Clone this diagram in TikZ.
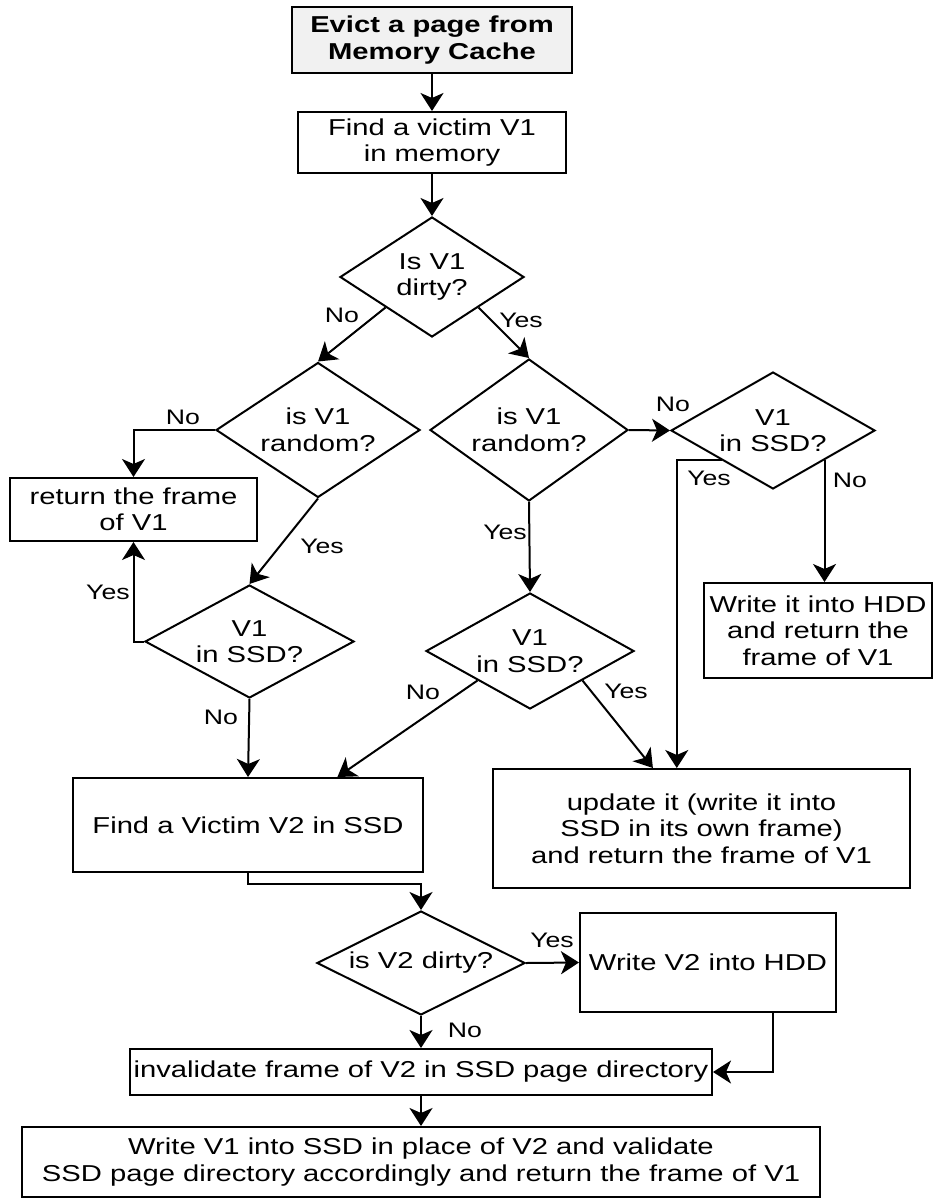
\documentclass[tikz,border=0pt]{standalone}
\usepackage{fontspec}
\setmainfont{Liberation Sans}[FakeStretch=1.27]
\usetikzlibrary{shapes.geometric,arrows.meta,calc}
\begin{document}
\begin{tikzpicture}[x=1pt,y=-1pt,
  box/.style={draw,line width=2pt,inner sep=0pt,align=center,font=\fontsize{23}{26.5}\selectfont},
  dia/.style={draw,diamond,line width=2pt,inner sep=0pt,align=center,font=\fontsize{23}{26.5}\selectfont},
  lab/.style={font=\fontsize{21}{24}\selectfont,inner sep=0pt},
  arr/.style={line width=2pt,-{Stealth[length=18pt,width=23pt,inset=5pt]}},
  ln/.style={line width=2pt}]
\useasboundingbox (0,0) rectangle (933,1198);

% boxes
\node[box,fill=gray!11,minimum width=280pt,minimum height=66pt] (top) at (432,40) {\textbf{Evict a page from}\\\textbf{Memory Cache}};
\node[box,minimum width=268pt,minimum height=61pt] (v1) at (432,142.5) {Find a victim V1\\in memory};
\node[box,minimum width=247pt,minimum height=63pt] (ret) at (133.5,509.5) {return the frame\\of V1};
\node[box,minimum width=228pt,minimum height=95pt] (hdd) at (818,630.5) {Write it into HDD\\and return the\\frame of V1};
\node[box,minimum width=350pt,minimum height=94pt] (v2) at (248,825) {Find a Victim V2 in SSD};
\node[box,minimum width=417pt,minimum height=119pt] (upd) at (701.5,828.5) {update it (write it into\\SSD in its own frame)\\and return the frame of V1};
\node[box,minimum width=256pt,minimum height=99pt] (wv2) at (708,962.5) {Write V2 into HDD};
\node[box,minimum width=582pt,minimum height=46pt] (inv) at (421,1072) {invalidate frame of V2 in SSD page directory};
\node[box,minimum width=798pt,minimum height=70pt] (wv1) at (421,1162) {Write V1 into SSD in place of V2 and validate\\SSD page directory accordingly and return the frame of V1};

% diamonds
\node[dia,minimum width=184pt,minimum height=120pt,aspect=1.53] (dirty) at (432,277) {Is V1\\dirty?};
\node[dia,minimum width=204pt,minimum height=135pt,aspect=1.5] (randL) at (318,430) {is V1\\random?};
\node[dia,minimum width=198pt,minimum height=142pt,aspect=1.39] (randR) at (529,430) {is V1\\random?};
\node[dia,minimum width=204pt,minimum height=117pt,aspect=1.74] (ssdR) at (773,430.5) {V1\\in SSD?};
\node[dia,minimum width=209pt,minimum height=113pt,aspect=1.85] (ssdL) at (249.5,641.5) {V1\\in SSD?};
\node[dia,minimum width=208pt,minimum height=116pt,aspect=1.79] (ssdM) at (530,651) {V1\\in SSD?};
\node[dia,minimum width=208pt,minimum height=104pt,aspect=2] (dirty2) at (421,963) {is V2 dirty?};

% connectors
\draw[arr] (top.south) -- (v1.north);
\draw[arr] (v1.south) -- (dirty.north);
\draw[arr] ($(dirty.west)!0.5!(dirty.south)$) -- (randL.north);
\draw[arr] ($(dirty.south)!0.5!(dirty.east)$) -- (randR.north);
\draw[arr] (randL.west) -| (ret.north);
\draw[arr] (randL.south) -- (ssdL.north);
\draw[arr] (ssdL.west) -| (ret.south);
\draw[arr] (ssdL.south) -- (v2.north);
\draw[arr] (randR.east) -- (ssdR.west);
\draw[arr] (randR.south) -- (ssdM.north);
\draw[arr] ($(ssdR.west)!0.5!(ssdR.south)$) -| ($(upd.north west)!0.441!(upd.north east)$);
\coordinate (ssdRno) at ($(ssdR.south)!0.5!(ssdR.east)$);
\draw[arr] (ssdRno) -- (ssdRno |- hdd.north);
\draw[arr] ($(ssdM.west)!0.5!(ssdM.south)$) -- ($(v2.north west)!0.754!(v2.north east)$);
\draw[arr] ($(ssdM.south)!0.5!(ssdM.east)$) -- ($(upd.north west)!0.384!(upd.north east)$);
\draw[arr] (v2.south) -- ++(0,11) -| (dirty2.north);
\draw[arr] (dirty2.east) -- (wv2.west);
\draw[arr] (dirty2.south) -- (inv.north);
\draw[arr] ($(wv2.south west)!0.75!(wv2.south east)$) |- (inv.east);
\draw[arr] (inv.south) -- (wv1.north);

% labels
\node[lab] (l1) at (342,315) {No};
\node[lab] (l2) at (521,320) {Yes};
\node[lab] (l3) at (183,417) {No};
\node[lab] (l4) at (322,546) {Yes};
\node[lab] (l5) at (108,592) {Yes};
\node[lab] (l6) at (221,717) {No};
\node[lab] (l7) at (673,404) {No};
\node[lab] (l8) at (505,532) {Yes};
\node[lab] (l9) at (709,478) {Yes};
\node[lab] (l10) at (850,480) {No};
\node[lab] (l11) at (423,692) {No};
\node[lab] (l12) at (626,691) {Yes};
\node[lab] (l13) at (552,940) {Yes};
\node[lab] (l14) at (465,1030) {No};
\end{tikzpicture}
\end{document}
